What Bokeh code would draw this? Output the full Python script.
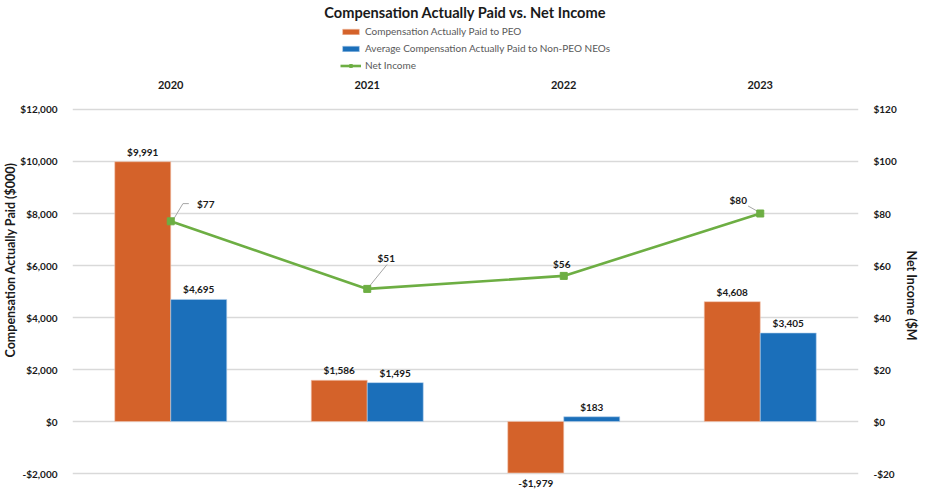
from bokeh.plotting import figure
from bokeh.models import (FactorRange, Range1d, LinearAxis, FixedTicker, ColumnDataSource,
                          LabelSet, Legend, LegendItem, Title)
from bokeh.transform import dodge
from bokeh.core.properties import value
from bokeh.embed import file_html
from bokeh.resources import INLINE

# ---------------- data ----------------
years = ["2020", "2021", "2022", "2023"]
peo_cap = [9991, 1586, -1979, 4608]
neo_cap = [4695, 1495, 183, 3405]
net_income = [77, 51, 56, 80]

left_ticks = [-2000, 0, 2000, 4000, 6000, 8000, 10000, 12000]
left_tick_labels = ["-$2,000", "$0", "$2,000", "$4,000", "$6,000", "$8,000", "$10,000", "$12,000"]
right_ticks = [-20, 0, 20, 40, 60, 80, 100, 120]
right_tick_labels = ["-$20", "$0", "$20", "$40", "$60", "$80", "$100", "$120"]

# ---------------- style ----------------
FONT = "Lato"
ORANGE = "#D4622A"
BLUE = "#1B6FBA"
GREEN = "#6DAE43"
GRID = "#D9D9D9"
TXT = "#1a1a1a"
BAR_W = 0.285
# visible value range plus head-room (legend, category labels) and foot-room (labels)
Y_LO, Y_HI = -2692, 15346
SCALE = 100  # left ($000) units per right ($M) unit


def money(v):
    return ("-$" if v < 0 else "$") + f"{abs(v):,}"


src = ColumnDataSource(dict(
    year=years,
    peo=peo_cap,
    neo=neo_cap,
    ni=net_income,
    top=[max(left_ticks)] * len(years),
    peo_lbl=[money(v) for v in peo_cap],
    neo_lbl=[money(v) for v in neo_cap],
    ni_lbl=[money(v) for v in net_income],
    peo_off=[4 if v >= 0 else -16 for v in peo_cap],
    neo_off=[4 if v >= 0 else -16 for v in neo_cap],
    ni_dx=[35, 19, -2, -22],
    ni_dy=[17, 31, 12, 14],
))

p = figure(
    x_range=FactorRange(*years),
    y_range=Range1d(Y_LO, Y_HI),
    width=925, height=491,
    min_border_left=72, min_border_right=62,
    min_border_top=22, min_border_bottom=0,
    x_axis_location=None,
    output_backend="svg", toolbar_location=None,
    title="Compensation Actually Paid vs. Net Income",
)
p.extra_y_ranges = {"ni": Range1d(Y_LO / SCALE, Y_HI / SCALE)}
p.outline_line_color = None

p.title.align = "center"
p.title.vertical_align = "top"
p.title.text_font = FONT
p.title.text_font_size = "14.6px"
p.title.text_font_style = "bold"
p.title.text_color = TXT
p.title.standoff = 0

p.xgrid.grid_line_color = None
p.ygrid.grid_line_color = GRID
p.ygrid.grid_line_width = 1.3
p.ygrid.ticker = FixedTicker(ticks=left_ticks)

ya = p.yaxis[0]
ya.ticker = FixedTicker(ticks=left_ticks)
ya.major_label_overrides = dict(zip(left_ticks, left_tick_labels))
ya.axis_line_color = None
ya.major_tick_line_color = None
ya.minor_tick_line_color = None
ya.major_label_standoff = 9
ya.major_label_text_font = FONT
ya.major_label_text_font_size = "10px"
ya.major_label_text_font_style = "bold"
ya.major_label_text_color = TXT

ra = LinearAxis(y_range_name="ni", ticker=FixedTicker(ticks=right_ticks))
ra.major_label_overrides = dict(zip(right_ticks, right_tick_labels))
ra.axis_line_color = None
ra.major_tick_line_color = None
ra.minor_tick_line_color = None
ra.major_label_standoff = 9
ra.major_label_text_font = FONT
ra.major_label_text_font_size = "10px"
ra.major_label_text_font_style = "bold"
ra.major_label_text_color = TXT
p.add_layout(ra, "right")

# axis titles placed along the visible value range
lt = Title(text="Compensation Actually Paid ($000)", align="left", offset=134,
           text_font=FONT, text_font_size="12.5px", text_font_style="bold", text_color=TXT, standoff=0)
p.add_layout(lt, "left")
rt = Title(text="Net Income ($M", align="left", offset=228,
           text_font=FONT, text_font_size="12.5px", text_font_style="bold", text_color=TXT, standoff=9)
p.add_layout(rt, "right")

b1 = p.vbar(x=dodge("year", -BAR_W / 2, range=p.x_range), top="peo", bottom=0, width=BAR_W,
            source=src, fill_color=ORANGE, line_color="#F3C7B3", line_width=0.6)
b2 = p.vbar(x=dodge("year", BAR_W / 2, range=p.x_range), top="neo", bottom=0, width=BAR_W,
            source=src, fill_color=BLUE, line_color="#B7D1EC", line_width=0.6)

# leader lines for the net income call-outs: offsets from each point
lead_src = ColumnDataSource(dict(
    x0=[years[0], years[0], years[1], years[3]],
    y0=[net_income[0], net_income[0] + 6.8, net_income[1], net_income[3] + 0.9],
    y1=[net_income[0] + 6.8, net_income[0] + 6.8, net_income[1] + 9.4, net_income[3] + 2.9],
    dx0=[0.008, 0.062, 0.0, -0.015],
    dx1=[0.062, 0.092, 0.101, -0.062],
))
for i in range(4):
    p.segment(x0=dodge("x0", lead_src.data["dx0"][i], range=p.x_range), y0="y0",
              x1=dodge("x0", lead_src.data["dx1"][i], range=p.x_range), y1="y1",
              source=ColumnDataSource({k: [v[i]] for k, v in lead_src.data.items()}),
              y_range_name="ni", line_color="#A6A6A6", line_width=1)

ln = p.line(x="year", y="ni", source=src, y_range_name="ni", line_color=GREEN, line_width=2.6)
mk = p.scatter(x="year", y="ni", source=src, y_range_name="ni", marker="square", size=7,
               fill_color=GREEN, line_color=GREEN)

common = dict(text_font=value(FONT), text_font_size="10px", text_font_style="bold",
              text_color=TXT, text_align="center", text_baseline="bottom")
p.add_layout(LabelSet(x=dodge("year", -BAR_W / 2, range=p.x_range), y="peo", text="peo_lbl",
                      y_offset="peo_off", source=src, **common))
p.add_layout(LabelSet(x=dodge("year", BAR_W / 2, range=p.x_range), y="neo", text="neo_lbl",
                      y_offset="neo_off", source=src, **common))
ni_common = dict(common, text_baseline="middle")
p.add_layout(LabelSet(x="year", y="ni", text="ni_lbl", x_offset="ni_dx", y_offset="ni_dy",
                      y_range_name="ni", source=src, **ni_common))
# category labels above the plotting area
p.add_layout(LabelSet(x="year", y="top", text="year", y_offset=24, source=src,
                      **dict(common, text_baseline="middle", text_font_size="11px")))

legend = Legend(items=[
    LegendItem(label="Compensation Actually Paid to PEO", renderers=[b1]),
    LegendItem(label="Average Compensation Actually Paid to Non-PEO NEOs", renderers=[b2]),
    LegendItem(label="Net Income", renderers=[ln, mk]),
], location=(268, 418), orientation="vertical", margin=0, padding=2, spacing=1,
    label_height=16, glyph_height=7, glyph_width=21, label_standoff=4,
    border_line_color=None, background_fill_alpha=0,
    label_text_font=FONT, label_text_font_size="10px", label_text_color="#595959")
p.add_layout(legend, "center")

open("out.html", "w").write(file_html(p, INLINE))
